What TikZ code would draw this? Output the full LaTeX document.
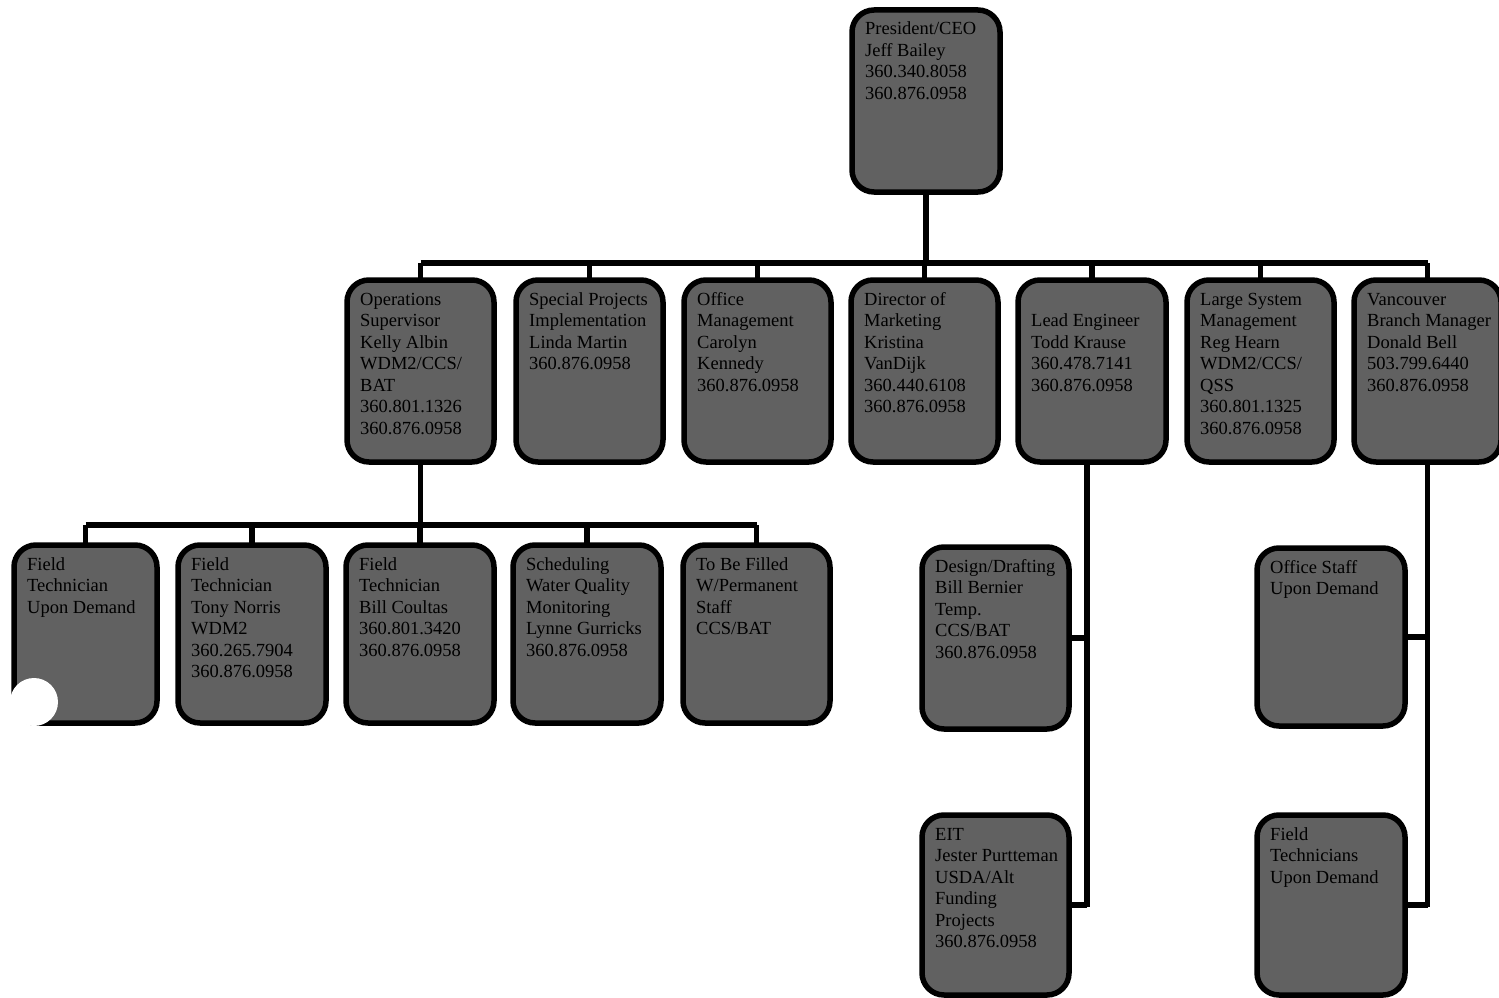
\documentclass[tikz,border=0pt]{standalone}
\usepackage{fontspec}
\setmainfont{Liberation Serif}
\definecolor{boxfill}{gray}{0.38}
\tikzset{
  orgbox/.style={draw=black, line width=5.5pt, rounded corners=22pt, fill=boxfill, inner sep=0pt, outer sep=0pt, anchor=north west},
  orgtxt/.style={inner sep=0pt, anchor=base west, text=black, font=\fontsize{18.5}{21.5}\selectfont},
  conn/.style={draw=black, line width=5.5pt}
}
\newcommand\obox[6]{%
  \node[orgbox, minimum width=#4pt, minimum height=#5pt] (#1) at (#2,#3) {};
  \node[orgtxt] (#1-t) at ([xshift=13pt,yshift=-25pt]#1.north west) {\parbox[t]{200pt}{\raggedright #6}};
}
\begin{document}
\begin{tikzpicture}[x=1pt,y=-1pt]
\useasboundingbox (0,0) rectangle (1499,998);
\fill[white] (0,0) rectangle (1499,998);
\coordinate (b1) at (926,263);
\coordinate (b2) at (422,525);
\coordinate (lv) at (1087,907);
\coordinate (vv) at (1427,907);
% boxes
\obox{pres}{852}{10}{148}{182}{President/CEO\\Jeff Bailey\\360.340.8058\\360.876.0958}
\obox{ops}{347}{280}{147}{182}{Operations\\Supervisor\\Kelly Albin\\WDM2/CCS/\\BAT\\360.801.1326\\360.876.0958}
\obox{spec}{516}{280}{147}{182}{Special Projects\\Implementation\\Linda Martin\\360.876.0958}
\obox{offm}{684}{280}{147}{182}{Office\\Management\\Carolyn\\Kennedy\\360.876.0958}
\obox{dir}{851}{280}{147}{182}{Director of\\Marketing\\Kristina\\VanDijk\\360.440.6108\\360.876.0958}
\obox{lead}{1018}{280}{148}{182}{\mbox{}\\Lead Engineer\\Todd Krause\\360.478.7141\\360.876.0958}
\obox{large}{1187}{280}{147}{182}{Large System\\Management\\Reg Hearn\\WDM2/CCS/\\QSS\\360.801.1325\\360.876.0958}
\obox{van}{1354}{280}{147}{182}{Vancouver\\Branch Manager\\Donald Bell\\503.799.6440\\360.876.0958}
\obox{ft1}{14}{545}{143}{178}{Field\\Technician\\Upon Demand}
\obox{ft2}{178}{545}{148}{178}{Field\\Technician\\Tony Norris\\WDM2\\360.265.7904\\360.876.0958}
\obox{ft3}{346}{545}{148}{178}{Field\\Technician\\Bill Coultas\\360.801.3420\\360.876.0958}
\obox{sched}{513}{545}{148}{178}{Scheduling\\Water Quality\\Monitoring\\Lynne Gurricks\\360.876.0958}
\obox{tbf}{683}{545}{147}{178}{To Be Filled\\W/Permanent\\Staff\\CCS/BAT}
\obox{design}{922}{547}{147}{182}{Design/Drafting\\Bill Bernier\\Temp.\\CCS/BAT\\360.876.0958}
\obox{eit}{922}{815}{147}{180}{EIT\\Jester Purtteman\\USDA/Alt\\Funding\\Projects\\360.876.0958}
\obox{ostaff}{1257}{548}{148}{178}{Office Staff\\Upon Demand}
\obox{ftech}{1257}{815}{148}{180}{Field\\Technicians\\Upon Demand}
% connectors
\draw[conn] (pres.south) -- (pres.south |- b1);
\draw[conn] (ops.north |- b1) -- (van.north |- b1);
\foreach \n in {ops,spec,offm,dir,lead,large,van} \draw[conn] (\n.north) -- (\n.north |- b1);
\draw[conn] (ops.south) -- (ops.south |- b2);
\draw[conn] (ft1.north |- b2) -- (tbf.north |- b2);
\foreach \n in {ft1,ft2,ft3,sched,tbf} \draw[conn] (\n.north) -- (\n.north |- b2);
\draw[conn] (lv |- lead.south) -- (lv);
\draw[conn] (design.east) -- (design.east -| lv);
\draw[conn] (eit.east) -- (eit.east -| lv);
\draw[conn] (van.south) -- (van.south |- vv);
\draw[conn] (ostaff.east) -- (ostaff.east -| van.south);
\draw[conn] (ftech.east) -- (ftech.east -| van.south);
% scan blemish
\fill[white] (34,702) circle (24);
\end{tikzpicture}
\end{document}
